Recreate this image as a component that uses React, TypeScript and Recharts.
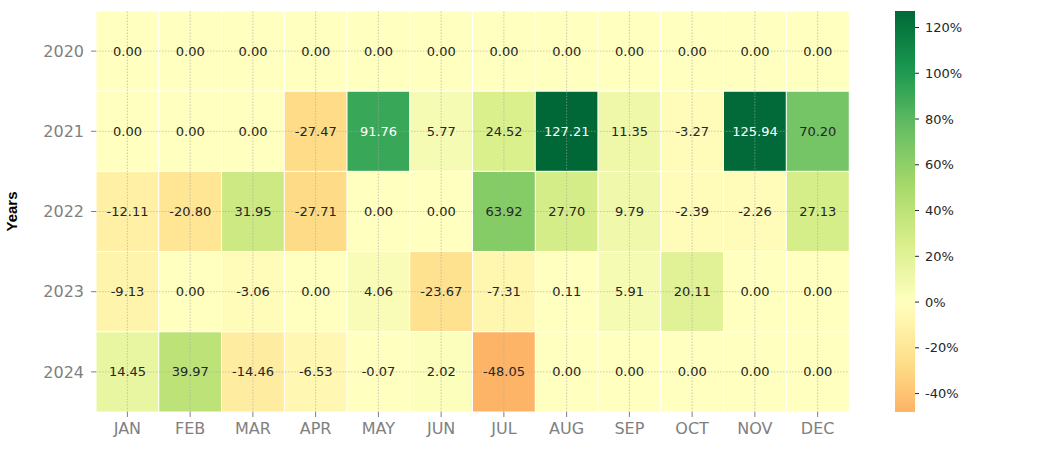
import React from 'react';
import { BarChart, Bar, XAxis, YAxis, Cell, LabelList, ReferenceLine } from 'recharts';

const months = ['JAN', 'FEB', 'MAR', 'APR', 'MAY', 'JUN', 'JUL', 'AUG', 'SEP', 'OCT', 'NOV', 'DEC'];
const years = [2020, 2021, 2022, 2023, 2024];

const returns2020 = [0, 0, 0, 0, 0, 0, 0, 0, 0, 0, 0, 0];
const returns2021 = [0, 0, 0, -27.47, 91.76, 5.77, 24.52, 127.21, 11.35, -3.27, 125.94, 70.2];
const returns2022 = [-12.11, -20.8, 31.95, -27.71, 0, 0, 63.92, 27.7, 9.79, -2.39, -2.26, 27.13];
const returns2023 = [-9.13, 0, -3.06, 0, 4.06, -23.67, -7.31, 0.11, 5.91, 20.11, 0, 0];
const returns2024 = [14.45, 39.97, -14.46, -6.53, -0.07, 2.02, -48.05, 0, 0, 0, 0, 0];

const returnsByYear = [returns2020, returns2021, returns2022, returns2023, returns2024];
const yearTicks = [0.5, 1.5, 2.5, 3.5, 4.5];
const colorbarTicks = [-40, -20, 0, 20, 40, 60, 80, 100, 120];

const RDYLGN = ['#a50026', '#d73027', '#f46d43', '#fdae61', '#fee08b', '#ffffbf', '#d9ef8b', '#a6d96a', '#66bd63', '#1a9850', '#006837'];

const hexToRgb = (h: string): number[] => [1, 3, 5].map((i) => parseInt(h.slice(i, i + 2), 16));
const KNOTS = RDYLGN.map(hexToRgb);

function cmap(t: number): number[] {
  const c = Math.max(0, Math.min(1, t)) * (KNOTS.length - 1);
  const i = Math.min(KNOTS.length - 2, Math.floor(c));
  const f = c - i;
  return KNOTS[i].map((a, k) => a + (KNOTS[i + 1][k] - a) * f);
}

const allValues = returnsByYear.flat();
const vmin = Math.min(...allValues);
const vmax = Math.max(...allValues);
const span = Math.max(vmax, -vmin);

const rgbFor = (v: number) => cmap((v + span) / (2 * span));
const toCss = (c: number[]) => `rgb(${Math.round(c[0])},${Math.round(c[1])},${Math.round(c[2])})`;
const colorFor = (v: number) => toCss(rgbFor(v));

function textColorFor(v: number) {
  const lin = rgbFor(v).map((x) => {
    const s = x / 255;
    return s <= 0.03928 ? s / 12.92 : Math.pow((s + 0.055) / 1.055, 2.4);
  });
  const l = 0.2126 * lin[0] + 0.7152 * lin[1] + 0.0722 * lin[2];
  return l > 0.408 ? '#262626' : '#ffffff';
}

const data = months.map((m, i) => {
  const row: any = { month: m, one: 1 };
  years.forEach((y, k) => {
    row[`y${y}`] = returnsByYear[k][i];
  });
  return row;
});

const colorbarData = [{ name: 'cb', range: [vmin, vmax] }];

const gradientStops = Array.from({ length: 61 }, (_, k) => {
  const f = k / 60;
  const v = vmax - f * (vmax - vmin);
  return { offset: f, color: colorFor(v) };
});

const renderValue = (props: any) => {
  const { x, y, width, height, value } = props;
  if (value === undefined || value === null) return null;
  return (
    <text
      x={x + width / 2}
      y={y + height / 2}
      textAnchor="middle"
      dominantBaseline="central"
      fontSize={13}
      fill={textColorFor(value)}
    >
      {Number(value).toFixed(2)}
    </text>
  );
};

const GRAY = '#808080';
const GRID = { stroke: '#a8a8a8', strokeDasharray: '1.5 1.5', strokeWidth: 0.6 };

export default function App() {
  return (
    <div style={{ position: 'absolute', left: 0, top: 0, width: 1051, height: 455, fontFamily: '"DejaVu Sans", sans-serif', background: '#fff' }}>
      <svg width={0} height={0} style={{ position: 'absolute' }}>
        <defs>
          <linearGradient id="cbGrad" x1="0" y1="0" x2="0" y2="1">
            {gradientStops.map((s, i) => (
              <stop key={i} offset={s.offset} stopColor={s.color} />
            ))}
          </linearGradient>
        </defs>
      </svg>
      <div style={{ position: 'absolute', left: 0, top: 0 }}>
        <BarChart
          width={1051}
          height={455}
          data={data}
          margin={{ top: 11, right: 202, bottom: 0, left: 0 }}
          barCategoryGap={0}
          barGap={0}
        >
          <XAxis
            dataKey="month"
            interval={0}
            height={43}
            axisLine={false}
            tickLine={{ stroke: GRAY }}
            tickSize={5}
            tickMargin={6}
            tick={{ fill: GRAY, fontSize: 16 }}
          />
          <YAxis
            type="number"
            domain={[0, 5]}
            ticks={yearTicks}
            reversed
            width={96}
            tickFormatter={(v: number) => String(years[Math.floor(v)])}
            axisLine={false}
            tickLine={{ stroke: GRAY }}
            tickSize={5}
            tickMargin={7}
            tick={{ fill: GRAY, fontSize: 16 }}
            label={{
              content: (p: any) => {
                const vb = p.viewBox || { x: 0, y: 11, width: 96, height: 401 };
                const cx = vb.x + 11;
                const cy = vb.y + vb.height / 2;
                return (
                  <text
                    x={cx}
                    y={cy}
                    transform={`rotate(-90 ${cx} ${cy})`}
                    textAnchor="middle"
                    dominantBaseline="central"
                    fontSize={15}
                    fontWeight="bold"
                    fontFamily='"Liberation Sans", Arial, sans-serif'
                    fill="#000"
                  >
                    Years
                  </text>
                );
              },
            }}
          />
          {years.map((y, k) => (
            <Bar key={y} dataKey="one" stackId="heat" isAnimationActive={false} stroke="#ffffff" strokeWidth={1}>
              {data.map((_, i) => (
                <Cell key={i} fill={colorFor(returnsByYear[k][i])} />
              ))}
              <LabelList dataKey={`y${y}`} content={renderValue} />
            </Bar>
          ))}
          {months.map((m) => (
            <ReferenceLine key={m} x={m} {...GRID} />
          ))}
          {yearTicks.map((t) => (
            <ReferenceLine key={t} y={t} {...GRID} />
          ))}
        </BarChart>
      </div>
      <div style={{ position: 'absolute', left: 0, top: 0 }}>
        <BarChart
          width={1051}
          height={455}
          data={colorbarData}
          margin={{ top: 11, right: 76, bottom: 43, left: 895 }}
          barCategoryGap={0}
        >
          <XAxis dataKey="name" hide />
          <YAxis
            orientation="right"
            type="number"
            domain={[vmin, vmax]}
            ticks={colorbarTicks}
            allowDataOverflow
            width={60}
            tickFormatter={(v: number) => `${v}%`}
            axisLine={false}
            tickLine={{ stroke: '#262626' }}
            tickSize={4}
            tickMargin={6}
            tick={{ fill: '#262626', fontSize: 13 }}
          />
          <Bar dataKey="range" fill="url(#cbGrad)" isAnimationActive={false} />
        </BarChart>
      </div>
    </div>
  );
}
